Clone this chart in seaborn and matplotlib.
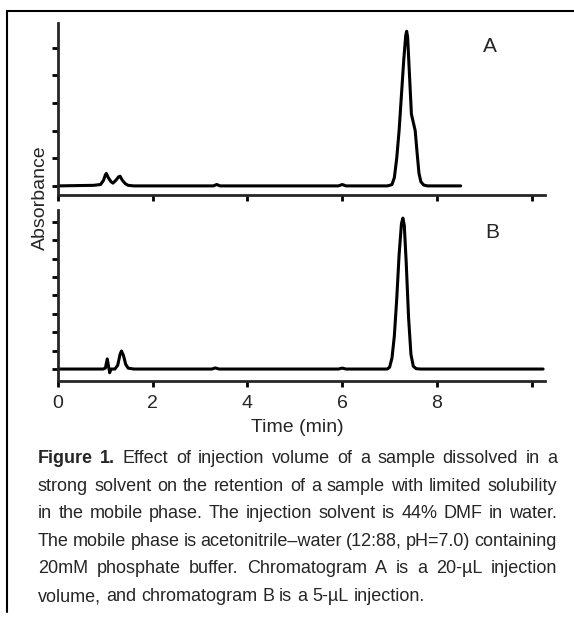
import numpy as np
import pandas as pd
import seaborn as sns
import matplotlib
matplotlib.use("Agg")
import matplotlib.pyplot as plt
from matplotlib.lines import Line2D

# chromatogram A (20 uL injection)
time_a = [0.0, 0.75, 0.9, 0.96, 1.0, 1.02, 1.06, 1.12, 1.16, 1.22, 1.28, 1.31,
          1.36, 1.42, 1.48, 1.6, 3.28, 3.35, 3.42, 5.92, 6.0, 6.08, 6.95, 7.0,
          7.05, 7.1, 7.15, 7.2, 7.25, 7.3, 7.34, 7.36, 7.38, 7.42, 7.46, 7.5,
          7.54, 7.58, 7.62, 7.66, 7.72, 7.8, 8.5]
abs_a = [0.0, 0.02, 0.05, 0.2, 0.4, 0.45, 0.3, 0.15, 0.1, 0.2, 0.33, 0.35,
         0.2, 0.08, 0.02, 0.0, 0.0, 0.05, 0.0, 0.0, 0.05, 0.0, 0.0, 0.02,
         0.05, 0.3, 1.0, 2.0, 3.3, 4.6, 5.45, 5.6, 5.4, 4.0, 2.6, 2.3,
         2.0, 1.2, 0.45, 0.15, 0.03, 0.0, 0.0]

# chromatogram B (5 uL injection)
time_b = [0.0, 0.95, 1.0, 1.04, 1.07, 1.09, 1.12, 1.2, 1.26, 1.31, 1.34, 1.38,
          1.43, 1.48, 1.6, 3.25, 3.32, 3.4, 5.92, 6.0, 6.08, 6.95, 7.0, 7.05,
          7.1, 7.15, 7.2, 7.25, 7.28, 7.31, 7.35, 7.4, 7.45, 7.5, 7.56, 7.65,
          10.24]
abs_b = [0.0, 0.0, 0.05, 0.55, 0.1, -0.2, 0.0, 0.0, 0.2, 0.8, 0.98, 0.75,
         0.25, 0.05, 0.0, 0.0, 0.06, 0.0, 0.0, 0.05, 0.0, 0.0, 0.1, 0.6,
         1.8, 3.8, 6.2, 7.9, 8.2, 7.8, 5.8, 2.8, 0.8, 0.15, 0.02, 0.0,
         0.0]

x_ticks = [0, 2, 4, 6, 8, 10]
x_tick_labels = ["0", "2", "4", "6", "8", ""]

caption_lines = [
    "Figure 1. Effect of injection volume of a sample dissolved in a",
    "strong solvent on the retention of a sample with limited solubility",
    "in the mobile phase. The injection solvent is 44% DMF in water.",
    "The mobile phase is acetonitrile\u2013water (12:88, pH=7.0) containing",
    "20mM phosphate buffer. Chromatogram A is a 20-\u00b5L injection",
    "volume, and chromatogram B is a 5-\u00b5L injection.",
]

W, H = 574, 627

sns.set_style("ticks")
plt.rcParams["font.family"] = ["Liberation Sans", "DejaVu Sans"]

fig = plt.figure(figsize=(W / 100, H / 100), dpi=100)


def px_axes(left, top, right, bottom):
    return fig.add_axes([left / W, 1 - bottom / H, (right - left) / W, (bottom - top) / H])


ax_a = px_axes(58, 23, 545, 195)
ax_b = px_axes(58, 210, 545, 381)

df_a = pd.DataFrame({"time": time_a, "absorbance": abs_a})
df_b = pd.DataFrame({"time": time_b, "absorbance": abs_b})

sns.lineplot(data=df_a, x="time", y="absorbance", ax=ax_a, color="black", linewidth=2.2)
sns.lineplot(data=df_b, x="time", y="absorbance", ax=ax_b, color="black", linewidth=2.2)

ax_a.set_ylim(-0.33, 5.9)
ax_b.set_ylim(-0.65, 8.64)
ax_a.set_yticks(range(0, 6))
ax_b.set_yticks(range(0, 9))

for ax in (ax_a, ax_b):
    ax.set_xlim(0, 10.28)
    ax.set_xticks(x_ticks)
    ax.set_yticklabels([])
    ax.set_xlabel("")
    ax.set_ylabel("")
    sns.despine(ax=ax)
    for s in ("left", "bottom"):
        ax.spines[s].set_linewidth(2)
    ax.tick_params(direction="out", length=4, width=2, color="black")

ax_a.set_xticklabels([])
ax_b.set_xticklabels(x_tick_labels, fontsize=14)
ax_b.tick_params(axis="x", pad=6)

ax_a.text(490 / W, 1 - 47 / H, "A", transform=fig.transFigure, fontsize=15,
          ha="center", va="center")
ax_b.text(492 / W, 1 - 232 / H, "B", transform=fig.transFigure, fontsize=15,
          ha="center", va="center")

fig.text(40 / W, 1 - 198 / H, "Absorbance", rotation=90, fontsize=14,
         ha="center", va="center")
fig.text(297 / W, 1 - 428 / H, "Time (min)", fontsize=14, ha="center", va="center")

# frame lines around the figure
fig.add_artist(Line2D([7 / W, 1.0], [1 - 11 / H, 1 - 11 / H], color="black", lw=1.5,
                      transform=fig.transFigure))
fig.add_artist(Line2D([7 / W, 7 / W], [1 - 11 / H, 1 - 612 / H], color="black", lw=1.5,
                      transform=fig.transFigure))

# justified caption, word by word (baselines in pixels)
cap_base = [463, 491, 518, 546, 573, 601]
cap_left, cap_right = 38, 557
cap_size = 13
fig.canvas.draw()
renderer = fig.canvas.get_renderer()
for i, line in enumerate(caption_lines):
    words = line.split(" ")
    texts = []
    for j, w in enumerate(words):
        bold = i == 0 and j < 2
        t = fig.text(0, 1 - cap_base[i] / H, w, fontsize=cap_size,
                     fontweight="bold" if bold else "normal", va="baseline", ha="left")
        texts.append(t)
    widths = [t.get_window_extent(renderer).width for t in texts]
    if i == len(caption_lines) - 1:
        gap = 5.0
    else:
        gap = (cap_right - cap_left - sum(widths)) / (len(words) - 1)
    x = cap_left
    for t, w in zip(texts, widths):
        t.set_x(x / W)
        x += w + gap

fig.savefig("out.png", dpi=100, facecolor="white")
